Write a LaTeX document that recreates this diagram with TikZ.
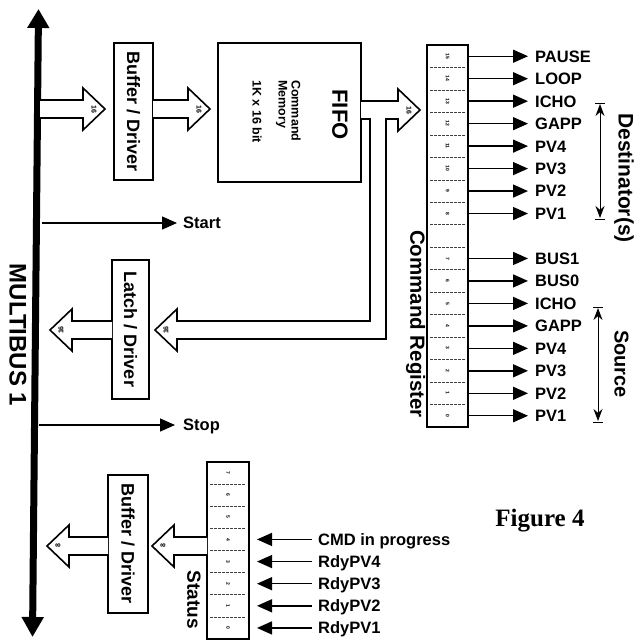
\documentclass[tikz,border=0pt]{standalone}
\usepackage{fontspec}
\setmainfont{Liberation Sans}
\newfontfamily\serifb{Liberation Serif}
\usetikzlibrary{arrows.meta,calc}
\newcommand\fsz[1]{\bfseries\fontsize{#1}{#1}\selectfont}
\tikzset{
  box/.style={draw, line width=1.1pt, inner sep=0pt},
  lbl/.style={font=\fsz{16.5}, anchor=west, inner sep=0pt, text height=11.8pt, text depth=0pt},
  rlbl/.style={rotate=-90, inner sep=0pt},
  sig/.style={line width=1.4pt, -{Triangle[length=15pt,width=13pt]}},
  fat/.style={line width=1.6pt, fill=white, line join=miter},
  alab/.style={font=\fsz{7}, inner sep=0pt},
  bitn/.style={font=\fsz{5}, rotate=-90, inner sep=0pt},
  cell/.style={line width=0.6pt, black!75, dash pattern=on 2.5pt off 1.5pt},
  dbl/.style={line width=1pt, {Stealth[length=12pt,width=9pt]}-{Stealth[length=12pt,width=9pt]}},
  tick/.style={line width=0.8pt}
}
% fat arrow pointing right: start x, tip x, y, label, name
\newcommand\fatright[5]{%
  \draw[fat] (#1,#3-9) -- (#2-22,#3-9) -- (#2-22,#3-21) -- (#2,#3) -- (#2-22,#3+21) -- (#2-22,#3+9) -- (#1,#3+9);
  \node[alab, rotate=-90] (#5) at (#2-11,#3) {#4};}
% fat arrow pointing left: start x (right end), tip x, y, label, name
\newcommand\fatleft[5]{%
  \draw[fat] (#1,#3-9) -- (#2+22,#3-9) -- (#2+22,#3-21) -- (#2,#3) -- (#2+22,#3+21) -- (#2+22,#3+9) -- (#1,#3+9);
  \node[alab, rotate=90] (#5) at (#2+11,#3) {#4};}
\begin{document}
\begin{tikzpicture}[x=1pt,y=-1pt]
\useasboundingbox (0,0) rectangle (644,640);

% MULTIBUS
\draw[line width=7pt, {Triangle[length=19pt,width=21pt]}-{Triangle[length=20pt,width=21pt]}] (38.5,9) -- (32.5,637);
\node[rlbl, font=\fsz{24}] (mb) at (18,335) {MULTIBUS 1};

% top buffer / driver
\node[box, minimum width=39pt, minimum height=137pt] (buf1) at (133.5,111.5) {};
\node[rlbl, font=\fsz{18}] (buf1t) at (buf1) {Buffer / Driver};
\fatright{40}{105}{109}{16}{a1}
\fatright{153}{210}{109}{16}{a2}

% FIFO
\node[box, minimum width=143pt, minimum height=139pt] (fifo) at (289.5,112.5) {};
\node[rlbl, font=\fsz{22}] (fifot) at (340,114.5) {FIFO};
\node[rlbl, font=\fsz{12.5}, anchor=west, text height=9pt, text depth=0pt] (fm1) at (296,80) {Command};
\node[rlbl, font=\fsz{12.5}, anchor=west, text height=9pt, text depth=0pt] (fm2) at (283,80) {Memory};
\node[rlbl, font=\fsz{12.5}, anchor=west, text height=9pt, text depth=0pt] (fm3) at (257,80) {1K x 16 bit};

% FIFO -> command register, with branch to latch
\draw[fat] (361,101) -- (398,101) -- (398,89) -- (420,110) -- (398,131) -- (398,119) -- (386,119)
  -- (386,339) -- (177,339) -- (177,351) -- (155,330) -- (177,309) -- (177,321) -- (370,321) -- (370,119) -- (361,119);
\node[alab, rotate=-90] (a3) at (409,110) {16};
\node[alab, rotate=90] (a4) at (166,330) {16};

% latch / driver
\node[box, minimum width=37pt, minimum height=139pt] (latch) at (130.5,329.5) {};
\node[rlbl, font=\fsz{18}] (latcht) at (latch) {Latch / Driver};
\fatleft{112}{50}{330}{16}{a5}

% Start / Stop
\node[lbl] (start) at (183,223) {Start};
\draw[sig] (42,223) -- ([xshift=-6pt]start.west);
\node[lbl] (stop) at (183,425) {Stop};
\draw[sig] (39,425) -- ([xshift=-8pt]stop.west);

% Command register
\node[box, line width=1.4pt, minimum width=41pt, minimum height=382pt] (creg) at (447.5,236) {};
\foreach \i in {1,...,16} {\draw[cell] (430,45+22.47*\i) -- (465,45+22.47*\i);}
\node[rlbl, font=\fsz{20.5}] (cregt) at (415.5,324) {Command Register};
\foreach \i/\n/\b in {0/PAUSE/15,1/LOOP/14,2/ICHO/13,3/GAPP/12,4/PV4/11,5/PV3/10,6/PV2/9,7/PV1/8,9/BUS1/7,10/BUS0/6,11/ICHO/5,12/GAPP/4,13/PV4/3,14/PV3/2,15/PV2/1,16/PV1/0} {
  \pgfmathsetmacro\yy{45+22.47*(\i+0.5)}
  \node[lbl] (o\i) at (535,\yy) {\n};
  \draw[sig] (creg.east |- o\i.west) -- ([xshift=-7pt]o\i.west);
  \node[bitn] (cb\i) at (447.5,\yy) {\b};
}

% Destinator(s) / Source
\draw[dbl] (600,104) -- (600,218);
\draw[tick] (595,103) -- (605,103);
\draw[tick] (595,219) -- (605,219);
\node[rlbl, font=\fsz{21}] (dest) at (624,178) {Destinator(s)};
\draw[dbl] (598,308) -- (598,421);
\draw[tick] (593,307) -- (603,307);
\draw[tick] (593,422) -- (603,422);
\node[rlbl, font=\fsz{20}] (src) at (621.5,364) {Source};

% Status register
\node[box, line width=1.4pt, minimum width=42pt, minimum height=177pt] (stat) at (228,550.5) {};
\foreach \i in {1,...,7} {\draw[cell] (210,462+22.125*\i) -- (246,462+22.125*\i);}
\foreach \i/\b in {0/7,1/6,2/5,3/4,4/3,5/2,6/1,7/0} {
  \node[bitn] (sb\i) at (228,{462+22.125*(\i+0.5)}) {\b};
}
\node[rlbl, font=\fsz{19}] (statt) at (194,600) {Status};
\coordinate (stip) at (257,0);
\foreach \i/\n in {3/CMD in progress,4/RdyPV4,5/RdyPV3,6/RdyPV2,7/RdyPV1} {
  \pgfmathsetmacro\yy{462+22.125*(\i+0.5)}
  \node[lbl] (in\i) at (318,\yy) {\n};
  \draw[sig] ([xshift=-6pt]in\i.west) -- (stip |- in\i.west);
}

% bottom buffer / driver
\node[box, minimum width=40pt, minimum height=138pt] (buf2) at (128,544) {};
\node[rlbl, font=\fsz{18}] (buf2t) at (buf2) {Buffer / Driver};
\fatleft{207}{152}{546}{8}{a6}
\fatleft{108}{47}{546}{8}{a7}

% caption
\node[font=\serifb\bfseries\fontsize{25}{28}\selectfont, inner sep=0pt] (fig) at (540,521) {Figure 4};
\end{tikzpicture}
\end{document}
